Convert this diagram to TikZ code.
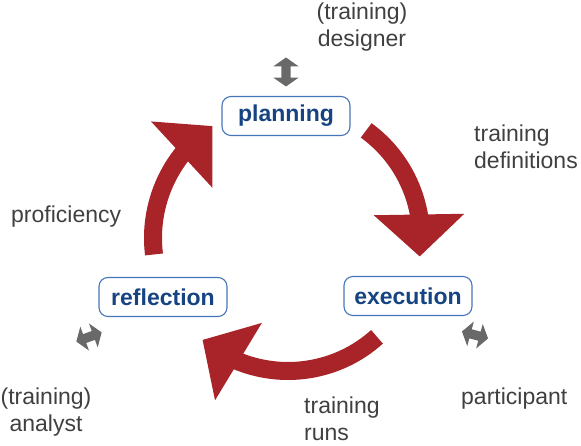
\documentclass[tikz,border=0pt]{standalone}
\usepackage{fontspec}
\setmainfont{Liberation Sans}
\usepackage{tikz}
\usetikzlibrary{shapes.arrows, arrows.meta, bending, positioning, calc}
\definecolor{cyclered}{RGB}{168,36,40}
\definecolor{boxblue}{RGB}{70,118,185}
\definecolor{textblue}{RGB}{22,68,130}
\definecolor{labelgray}{RGB}{64,64,64}
\definecolor{roleg}{RGB}{105,105,105}
\tikzset{
  phase/.style={rectangle, draw=boxblue, fill=white, rounded corners=9pt,
    line width=1.1pt, minimum width=128pt, minimum height=39pt,
    inner sep=0pt, font=\fontsize{23}{27}\selectfont\bfseries, text=textblue},
  note/.style={font=\fontsize{23}{27}\selectfont, text=labelgray,
    inner sep=0pt, align=left},
  link/.style={double arrow, fill=roleg, inner xsep=0pt, inner ysep=4.5pt,
    minimum height=29pt, minimum width=25pt,
    double arrow head extend=8pt, double arrow tip angle=110},
  cycle/.style={line width=18pt, color=cyclered,
    -{Triangle[width=88pt, length=42pt, flex]}}
}
\begin{document}
\begin{tikzpicture}[x=1pt, y=1pt]
  \useasboundingbox (0,0) rectangle (581,445);
  % centre of the cycle
  \coordinate (c) at (288,207);

  % Phases
  \node[phase] (plan) at (286,329) {planning};
  \node[phase] (exec) at (408,149) {execution};
  \node[phase] (refl) at (163,148) {reflection};

  % Cycle arrows
  \draw[cycle] ($(c)+(54:133)$) arc[start angle=54, end angle=-8, radius=133];
  \draw[cycle] ($(c)+(-48:133)$) arc[start angle=-48, end angle=-130, radius=133];
  \draw[cycle] ($(c)+(187:135)$) arc[start angle=187, end angle=124, radius=135];

  % Roles
  \node[link, rotate=90] (l1) at (286,373) {};
  \node[link, rotate=20, minimum height=27pt, minimum width=22pt] (l2) at (89,108) {};
  \node[link, rotate=-15, minimum height=27pt, minimum width=22pt] (l3) at (475,110) {};
  \node[note, align=center] (designer) at (362,418) {(training)\\designer};
  \node[note, align=center, anchor=north] (analyst) at (46,57) {(training)\\analyst};
  \node[note, anchor=west] (participant) at (461,46) {participant};

  % Artefacts
  \node[note, anchor=west] (defs) at (474,298) {training\\definitions};
  \node[note, anchor=west] (runs) at (304,26) {training\\runs};
  \node[note, anchor=west] (prof) at (11,228) {proficiency};
\end{tikzpicture}
\end{document}
